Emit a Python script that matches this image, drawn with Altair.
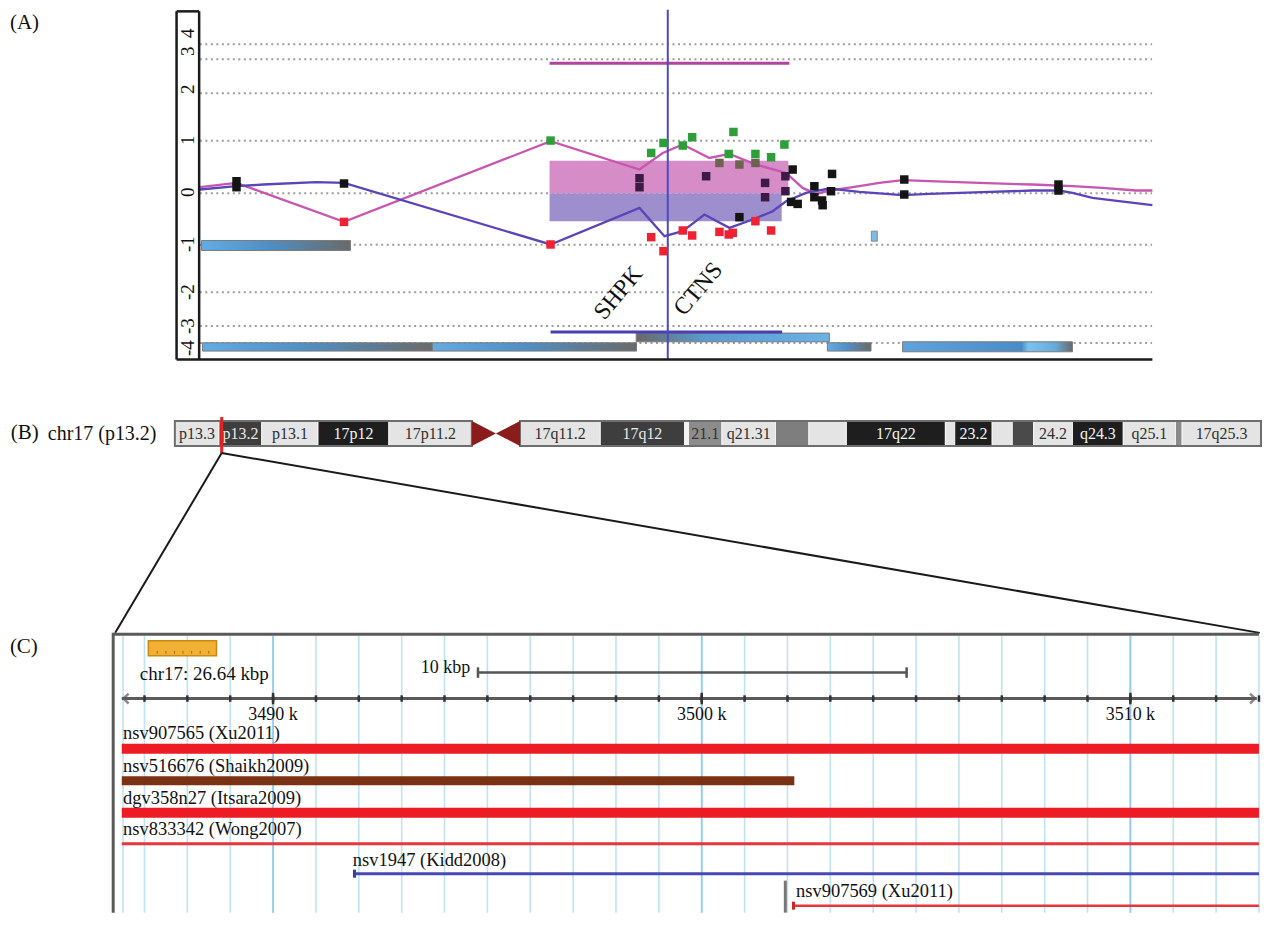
import altair as alt
import pandas as pd

FONT = "Liberation Serif"

# ================= Panel A data (x: relative position, y: log-ratio) =================
pink_x = [20.0, 23.67, 34.43, 55.1, 64.0, 66.33, 68.33, 71.0, 73.0, 75.67, 78.67, 80.33, 81.67, 83.0,
          86.0, 88.0, 90.33, 93.0, 98.0, 103.33, 107.33, 110.33, 113.67, 115.33]
pink_y = [0.12, 0.206, -0.574, 1.04, 0.474, 0.806, 0.974, 0.706, 0.786, 0.574, 0.406, 0.106, -0.014, 0.054,
          0.14, 0.206, 0.26, 0.24, 0.206, 0.174, 0.14, 0.106, 0.054, 0.054]
blue_x = [20.0, 23.67, 26.33, 31.67, 34.43, 55.1, 64.0, 66.5, 68.33, 70.5, 73.0, 75.33, 77.33, 78.67,
          80.67, 83.0, 86.0, 90.33, 93.0, 98.33, 103.33, 106.0, 107.33, 109.33, 112.0, 115.33]
blue_y = [0.074, 0.14, 0.174, 0.22, 0.206, -1.026, -0.294, -0.86, -0.76, -0.426, -0.694, -0.526, -0.36, -0.16,
          0.006, 0.094, 0.026, -0.04, -0.014, 0.02, 0.054, 0.054, 0.006, -0.094, -0.16, -0.24]

green_x = [55.1, 65.17, 66.4, 68.33, 69.27, 73.4, 72.93, 75.6, 77.17, 78.5]
green_y = [1.054, 0.806, 1.006, 0.954, 1.12, 1.226, 0.786, 0.786, 0.72, 0.974]
olive_x = [72.0, 74.0, 75.6]
olive_y = [0.606, 0.574, 0.606]
plum_x = [64.0, 64.0, 70.67, 76.57, 76.57, 78.6, 78.6]
plum_y = [0.3, 0.12, 0.34, 0.206, -0.08, 0.34, 0.04]
black_x = [23.67, 23.67, 34.43, 79.33, 74.0, 79.17, 79.83, 81.5, 81.5, 82.27, 82.33, 83.27, 83.17,
           90.5, 90.5, 105.93, 105.93]
black_y = [0.24, 0.12, 0.194, 0.474, -0.48, -0.174, -0.214, 0.14, -0.08, -0.146, -0.24, 0.386, 0.04,
           0.274, -0.026, 0.174, 0.054]
red_x = [34.43, 55.1, 65.17, 66.4, 68.33, 69.27, 72.0, 72.93, 73.33, 75.6, 77.17]
red_y = [-0.574, -1.026, -0.88, -1.16, -0.746, -0.846, -0.774, -0.826, -0.794, -0.56, -0.746]

grid_vals = [2.98, 2.68, 2.0, 1.05, 0.0, -1.03, -1.98, -2.66, -3.0]
ylab_text = ["4", "3", "2", "1", "0", "-1", "-2", "-3", "-4"]
ylab_vals = [3.2, 2.84, 2.08, 1.06, 0.02, -1.02, -1.98, -2.66, -3.1]

bg_x1 = [20.17, 20.27, 43.27, 82.8]
bg_x2 = [35.07, 43.27, 63.7, 87.17]
bg_y1 = [-0.946, -2.994, -2.994, -2.994]
bg_y2 = [-1.146, -3.16, -3.16, -3.16]
gb_x1, gb_x2, gb_y1, gb_y2 = [63.67], [83.0], [-2.8], [-2.974]
ld_x1, ld_x2, ld_y1, ld_y2 = [90.33], [107.33], [-2.974], [-3.174]

# ================= Panel B data (chr17 ideogram, Mb) =================
band_start = [0, 3.3, 6.5, 10.7, 16.0, 25.8, 31.8, 38.1, 38.4, 40.9, 44.9, 47.4, 50.2, 57.6, 58.3,
              61.1, 62.6, 64.2, 67.1, 70.9, 74.8, 75.3]
band_end = [3.3, 6.5, 10.7, 16.0, 22.2, 31.8, 38.1, 38.4, 40.9, 44.9, 47.4, 50.2, 57.6, 58.3, 61.1,
            62.6, 64.2, 67.1, 70.9, 74.8, 75.3, 81.195]
band_label = ["p13.3", "p13.2", "p13.1", "17p12", "17p11.2", "17q11.2", "17q12", "", "21.1", "q21.31",
              "", "", "17q22", "", "23.2", "", "", "24.2", "q24.3", "q25.1", "", "17q25.3"]
band_fill = ["#e4e4e4", "#3e3e3e", "#e4e4e4", "#1e1e1e", "#e4e4e4", "#e4e4e4", "#3e3e3e", "#f2f2f2",
             "#8c8c8c", "#e4e4e4", "#7e7e7e", "#e4e4e4", "#1e1e1e", "#e4e4e4", "#1e1e1e", "#e4e4e4",
             "#4a4a4a", "#e4e4e4", "#1e1e1e", "#e4e4e4", "#8a8a8a", "#e4e4e4"]
band_text = ["#303030", "#e8e8e8", "#303030", "#f4f4f4", "#303030", "#303030", "#e8e8e8", "#303030",
             "#333333", "#303030", "#303030", "#303030", "#f4f4f4", "#303030", "#f4f4f4", "#303030",
             "#303030", "#303030", "#f4f4f4", "#303030", "#303030", "#303030"]
cen_x = [22.2, 24.0, 25.8]
region_mb = 3.5
chr_len = 81.195

# ================= Panel C data (chr17, kb) =================
grid_kb = [3486.5] + list(range(3487, 3514))
major_kb = [3490, 3500, 3510]
tick_kb = list(range(3487, 3514))
view_start, view_end = 3486.47, 3513.0
track_name = ["nsv907565 (Xu2011)", "nsv516676 (Shaikh2009)", "dgv358n27 (Itsara2009)",
              "nsv833342 (Wong2007)", "nsv1947 (Kidd2008)", "nsv907569 (Xu2011)"]
track_start = [3486.47, 3486.47, 3486.47, 3486.47, 3491.9, 3502.14]
track_end = [3513.0, 3502.16, 3513.0, 3513.0, 3513.0, 3513.0]
track_label_x = [3486.5, 3486.5, 3486.5, 3486.5, 3491.86, 3502.2]
track_color = ["#ed1c24", "#7b3214", "#ed1c24", "#e8353c", "#4848b4", "#e8353c"]
track_width = [10, 9, 10, 3, 3, 2.5]
row_label_y = [100, 133, 165, 196, 227, 258]
row_bar_y = [116, 148, 180, 211, 241, 273]

W = 1256


def make_scales(xdom, ydom, rev=False):
    xs = alt.Scale(domain=xdom, nice=False, zero=False)
    ys = alt.Scale(domain=ydom, nice=False, zero=False, reverse=rev)

    def X(f):
        return alt.X(f, type="quantitative", scale=xs, axis=None)

    def Y(f):
        return alt.Y(f, type="quantitative", scale=ys, axis=None)
    return X, Y


def seg(X, Y, x1, x2, y1, y2, **mk):
    df = pd.DataFrame({"x": x1, "x2": x2, "y": y1, "y2": y2})
    return alt.Chart(df).mark_rule(**mk).encode(x=X("x"), x2=alt.X2("x2"), y=Y("y"), y2=alt.Y2("y2"))


def txt(X, Y, xs, ys, ts, **mk):
    df = pd.DataFrame({"x": xs, "y": ys, "t": ts})
    return alt.Chart(df).mark_text(font=FONT, **mk).encode(x=X("x"), y=Y("y"), text="t:N")


def box(X, Y, x1, x2, y1, y2, **mk):
    df = pd.DataFrame({"x": x1, "x2": x2, "y": y1, "y2": y2})
    return alt.Chart(df).mark_rect(**mk).encode(x=X("x"), x2=alt.X2("x2"), y=Y("y"), y2=alt.Y2("y2"))


def grad(stops):
    return alt.Gradient(gradient="linear", x1=0, x2=1, y1=0, y2=0,
                        stops=[alt.GradientStop(offset=o, color=c) for o, c in stops])


# ---------------- Panel A ----------------
XA, YA = make_scales([0.8, 126.4], [-3.82, 3.68])
n = len(grid_vals)
gridA = seg(XA, YA, [20.0] * n, [115.3] * n, grid_vals, grid_vals,
            color="#9c9c9c", strokeWidth=2, strokeDash=[2, 3.5])
pinkRect = box(XA, YA, [55.0], [78.9], [0.65], [0.0], color="#d68cc6")
purpRect = box(XA, YA, [55.0], [78.23], [0.0], [-0.56], color="#9d8ecd")
pinkLine = alt.Chart(pd.DataFrame({"x": pink_x, "y": pink_y})).mark_line(
    color="#c855b0", strokeWidth=2.3).encode(x=XA("x"), y=YA("y"))
blueLine = alt.Chart(pd.DataFrame({"x": blue_x, "y": blue_y})).mark_line(
    color="#5a44b8", strokeWidth=2.3).encode(x=XA("x"), y=YA("y"))
barsBG = box(XA, YA, bg_x1, bg_x2, bg_y1, bg_y2, stroke="#7a7a7a", strokeWidth=1,
             fill=grad([(0, "#62acE4"), (0.45, "#4f8fc4"), (1, "#6a6a6a")]))
barsGB = box(XA, YA, gb_x1, gb_x2, gb_y1, gb_y2, stroke="#7a7a7a", strokeWidth=1,
             fill=grad([(0, "#686868"), (0.35, "#5a9ad0"), (1, "#6ab2e6")]))
barsLD = box(XA, YA, ld_x1, ld_x2, ld_y1, ld_y2, stroke="#7a7a7a", strokeWidth=1,
             fill=grad([(0, "#5ea4dc"), (0.7, "#4a8cc8"), (0.74, "#7cc0ec"), (0.9, "#66aadc"), (1, "#6a6a6a")]))
smallSq = box(XA, YA, [87.2], [87.8], [-0.76], [-0.96], fill="#7cbde8", stroke="#888888", strokeWidth=1)
topBar = seg(XA, YA, [55.0], [79.0], [2.6], [2.6], color="#b0459f", strokeWidth=3)
botBar = seg(XA, YA, [55.1], [78.27], [-2.78], [-2.78], color="#4a3fb0", strokeWidth=3)
vline = seg(XA, YA, [66.83], [66.83], [3.67], [-3.32], color="#4b4bbf", strokeWidth=2)

grp = (["g"] * len(green_x) + ["o"] * len(olive_x) + ["p"] * len(plum_x) +
       ["k"] * len(black_x) + ["r"] * len(red_x))
pts = pd.DataFrame({"x": green_x + olive_x + plum_x + black_x + red_x,
                    "y": green_y + olive_y + plum_y + black_y + red_y, "g": grp})
points = alt.Chart(pts).mark_point(shape="square", filled=True, size=72, opacity=1).encode(
    x=XA("x"), y=YA("y"),
    color=alt.Color("g:N", legend=None,
                    scale=alt.Scale(domain=["g", "o", "p", "k", "r"],
                                    range=["#2e9e38", "#6e6350", "#3d1a45", "#141414", "#ee2233"])))
geneText = txt(XA, YA, [61.9, 69.9], [-2.0, -1.92], ["SHPK", "CTNS"], fontSize=24, angle=310,
               align="center", baseline="middle", color="#111111")
ylabels = txt(XA, YA, [18.8] * 9, ylab_vals, ylab_text, fontSize=19, angle=270,
              align="center", baseline="middle", color="#111111")
labA = txt(XA, YA, [1.0], [3.4], ["(A)"], fontSize=21, align="left", baseline="middle", color="#111111")
frame = seg(XA, YA, [17.67, 19.93, 17.67, 17.67], [17.67, 19.93, 19.93, 115.33],
            [3.64, 3.64, 3.64, -3.33], [-3.33, -3.33, 3.64, -3.33], color="#1a1a1a", strokeWidth=2.5)

panelA = alt.layer(gridA, pinkRect, purpRect, pinkLine, blueLine, barsBG, barsGB, barsLD, smallSq,
                   topBar, botBar, vline, points, geneText, ylabels, labA, frame).properties(
    width=W, height=375)

# ---------------- Panel B ----------------
XB, YB = make_scales([-12.474, 81.344], [0, 249])
bands = pd.DataFrame({"s": band_start, "e": band_end, "lab": band_label, "f": band_fill, "tc": band_text})
bands["mid"] = (bands["s"] + bands["e"]) / 2
bands["top"] = 212
bands["bot"] = 187
bands["ym"] = 199.5
bandRects = alt.Chart(bands).mark_rect(stroke="#f4f4f4", strokeWidth=1).encode(
    x=XB("s"), x2=alt.X2("e"), y=YB("top"), y2=alt.Y2("bot"), fill=alt.Fill("f:N", scale=None))
bandText = alt.Chart(bands).mark_text(font=FONT, fontSize=16, baseline="middle").encode(
    x=XB("mid"), y=YB("ym"), text="lab:N", color=alt.Color("tc:N", scale=None))
outline = box(XB, YB, [0, 25.8], [22.2, chr_len], [212, 212], [187, 187],
              filled=False, stroke="#6e6e6e", strokeWidth=2)
cen = alt.Chart(pd.DataFrame({"x": cen_x, "y": [212, 199.5, 212], "y2": [187, 199.5, 187]})).mark_area(
    color="#8b1c1c").encode(x=XB("x"), y=YB("y"), y2=alt.Y2("y2"))
marker = seg(XB, YB, [region_mb], [region_mb], [216], [180], color="#e82020", strokeWidth=3)
zoomLines = seg(XB, YB, [region_mb, region_mb], [-4.46, 81.1], [180, 180], [0, 0],
                color="#1a1a1a", strokeWidth=2)
chrLabB = txt(XB, YB, [-9.5], [199.5], ["chr17 (p13.2)"], fontSize=20, align="left",
              baseline="middle", color="#111111")
labB = txt(XB, YB, [-12.26], [200], ["(B)"], fontSize=21, align="left", baseline="middle",
           color="#111111")
panelB = alt.layer(bandRects, outline, cen, bandText, marker, zoomLines, chrLabB, labB).properties(
    width=W, height=249)

# ---------------- Panel C ----------------
XC, YC = make_scales([3483.816, 3513.094], [0, 280], rev=True)
ng = len(grid_kb)
gridC = seg(XC, YC, grid_kb, grid_kb, [3] * ng, [280] * ng, color="#bfe3f2", strokeWidth=1.6)
gridMaj = seg(XC, YC, major_kb, major_kb, [3] * 3, [280] * 3, color="#92cdee", strokeWidth=1.8)
frameC = seg(XC, YC, [3486.27, 3486.27], [view_end, 3486.27], [1.5, 0], [1.5, 280],
             color="#5a5a5a", strokeWidth=3)
ruler = seg(XC, YC, [view_start], [view_end - 0.05], [65.7], [65.7], color="#5a5a5a", strokeWidth=3)
nt = len(tick_kb)
ticks = seg(XC, YC, tick_kb, tick_kb, [62.5] * nt, [69] * nt, color="#333333", strokeWidth=2.5)
majTicks = seg(XC, YC, major_kb, major_kb, [60] * 3, [71.5] * 3, color="#333333", strokeWidth=2.5)
arrows = alt.Chart(pd.DataFrame({"x": [view_start + 0.1, view_end - 0.15],
                                 "y": [65.7, 65.7], "s": ["L", "R"]})).mark_point(
    filled=False, size=100, strokeWidth=2.5, color="#5a5a5a").encode(
    x=XC("x"), y=YC("y"),
    shape=alt.Shape("s:N", legend=None,
                    scale=alt.Scale(domain=["L", "R"], range=["M0.5,-1L-0.5,0L0.5,1", "M-0.5,-1L0.5,0L-0.5,1"])))
tickLab = txt(XC, YC, major_kb, [82.5] * 3, ["3490 k", "3500 k", "3510 k"], fontSize=18,
              align="center", baseline="middle", color="#111111")
sbar = seg(XC, YC, [3494.78, 3494.78, 3504.78], [3504.78, 3494.78, 3504.78], [39.7, 34.5, 34.5],
           [39.7, 45, 45], color="#555555", strokeWidth=2.5)
sbarLab = txt(XC, YC, [3494.6], [35.5], ["10  kbp"], fontSize=18, align="right", baseline="middle",
              color="#111111")
icon = box(XC, YC, [3487.09], [3488.68], [8], [23], fill="#f2b134", stroke="#c88a10", strokeWidth=1.5)
icon_tick_kb = [3487.3, 3487.5, 3487.7, 3487.9, 3488.1, 3488.3, 3488.5]
iconTicks = seg(XC, YC, icon_tick_kb, icon_tick_kb, [18] * 7, [21] * 7, color="#a07010", strokeWidth=1)
chrLab = txt(XC, YC, [3486.89], [41], ["chr17: 26.64 kbp"], fontSize=19, align="left",
             baseline="middle", color="#111111")
labC = txt(XC, YC, [3483.86], [14], ["(C)"], fontSize=21, align="left", baseline="middle", color="#111111")

tracks = pd.DataFrame({"s": track_start, "e": track_end, "y": row_bar_y, "c": track_color,
                       "w": track_width, "lx": track_label_x, "ly": row_label_y, "name": track_name})
trackBars = alt.Chart(tracks).mark_rule().encode(
    x=XC("s"), x2=alt.X2("e"), y=YC("y"), y2=alt.Y2("y"),
    color=alt.Color("c:N", scale=None),
    strokeWidth=alt.StrokeWidth("w:Q", scale=None))
trackLab = alt.Chart(tracks).mark_text(font=FONT, fontSize=18.5, align="left", baseline="middle",
                                       color="#111111").encode(x=XC("lx"), y=YC("ly"), text="name:N")
capRed = seg(XC, YC, [3502.14], [3502.14], [269], [277], color="#d02020", strokeWidth=3)
capBlue = seg(XC, YC, [3491.9], [3491.9], [237], [245], color="#3a3aa8", strokeWidth=3)
grayMark = seg(XC, YC, [3501.95], [3501.95], [248], [280], color="#777777", strokeWidth=3)

panelC = alt.layer(gridC, gridMaj, frameC, ruler, ticks, majTicks, arrows, tickLab, sbar, sbarLab,
                   icon, iconTicks, chrLab, labC, trackBars, trackLab, capRed, capBlue, grayMark).properties(
    width=W, height=280)

chart = alt.vconcat(panelA, panelB, panelC, spacing=0, bounds="flush").properties(
    padding=0, background="white").configure_view(stroke=None)

chart.save("out.html", embed_options={"renderer": "svg", "actions": False})
